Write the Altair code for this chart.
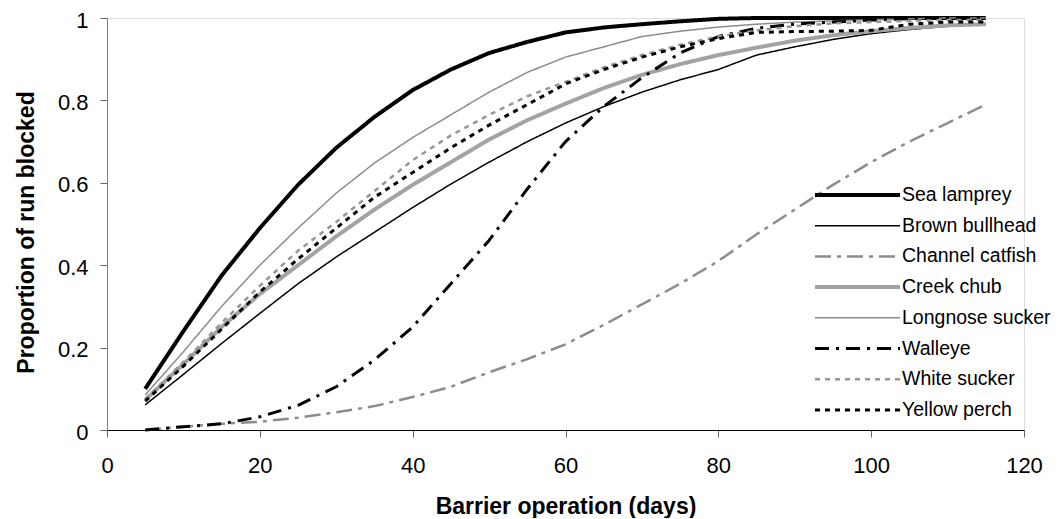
import altair as alt
import pandas as pd

days = [5, 10, 15, 20, 25, 30, 35, 40, 45, 50, 55, 60, 65, 70, 75, 80, 85, 90, 95, 100, 105, 110, 115]

species = ["Sea lamprey", "Brown bullhead", "Channel catfish", "Creek chub",
           "Longnose sucker", "Walleye", "White sucker", "Yellow perch"]

sea_lamprey = [0.10, 0.24, 0.375, 0.49, 0.595, 0.685, 0.76, 0.825, 0.875, 0.915, 0.942, 0.965,
               0.977, 0.985, 0.992, 0.998, 1.0, 1.0, 1.0, 1.0, 1.0, 1.0, 1.0]
brown_bullhead = [0.061, 0.135, 0.21, 0.283, 0.355, 0.42, 0.48, 0.54, 0.597, 0.65, 0.70, 0.745,
                  0.785, 0.82, 0.85, 0.875, 0.91, 0.93, 0.948, 0.962, 0.972, 0.98, 0.985]
channel_catfish = [0.0, 0.008, 0.015, 0.02, 0.03, 0.043, 0.058, 0.08, 0.105, 0.14, 0.172, 0.208,
                   0.255, 0.305, 0.355, 0.41, 0.475, 0.535, 0.595, 0.65, 0.70, 0.745, 0.79]
creek_chub = [0.073, 0.16, 0.25, 0.33, 0.40, 0.47, 0.535, 0.595, 0.65, 0.705, 0.752, 0.792,
              0.83, 0.862, 0.888, 0.91, 0.928, 0.945, 0.958, 0.968, 0.976, 0.982, 0.985]
longnose_sucker = [0.085, 0.19, 0.30, 0.40, 0.49, 0.575, 0.648, 0.71, 0.765, 0.82, 0.868, 0.905,
                   0.93, 0.955, 0.968, 0.978, 0.985, 0.99, 0.993, 0.996, 0.998, 1.0, 1.0]
walleye = [0.0, 0.008, 0.015, 0.032, 0.06, 0.105, 0.17, 0.25, 0.355, 0.46, 0.585, 0.70,
           0.785, 0.855, 0.915, 0.955, 0.975, 0.985, 0.99, 0.995, 0.998, 1.0, 1.0]
white_sucker = [0.075, 0.165, 0.26, 0.35, 0.435, 0.505, 0.58, 0.655, 0.715, 0.765, 0.81, 0.845,
                0.88, 0.91, 0.935, 0.955, 0.97, 0.98, 0.987, 0.99, 0.993, 0.995, 0.995]
yellow_perch = [0.07, 0.155, 0.245, 0.335, 0.415, 0.49, 0.565, 0.625, 0.685, 0.74, 0.79, 0.84,
                0.875, 0.905, 0.93, 0.95, 0.965, 0.967, 0.968, 0.97, 0.985, 0.99, 0.99]

series = [sea_lamprey, brown_bullhead, channel_catfish, creek_chub,
          longnose_sucker, walleye, white_sucker, yellow_perch]

x_ticks = [0, 20, 40, 60, 80, 100, 120]
y_ticks = [0, 0.2, 0.4, 0.6, 0.8, 1.0]

rows = []
for i, (name, vals) in enumerate(zip(species, series)):
    for d, v in zip(days, vals):
        rows.append({"species": name, "order": i, "days": d, "blocked": v})
df = pd.DataFrame(rows)

colors = ["#000000", "#000000", "#8c8c8c", "#a3a3a3", "#8c8c8c", "#000000", "#969696", "#000000"]
dashes = [[1, 0], [1, 0], [16, 6, 4, 6], [1, 0], [1, 0], [14, 7, 3, 7], [5, 5], [5, 5]]
widths = [4, 1.5, 2.5, 4, 1.5, 3, 2.5, 3]

FONT = "Liberation Sans"

legend = alt.Legend(
    title=None,
    orient="none",
    legendX=706,
    legendY=167,
    symbolType="stroke",
    symbolSize=7225,
    clipHeight=20,
    rowPadding=10.7,
    labelFont=FONT,
    labelFontSize=19.5,
    labelColor="#000000",
    labelOffset=0,
    labelLimit=300,
    padding=0,
    symbolFillColor="transparent",
)

chart = alt.Chart(df).mark_line(strokeJoin="round").encode(
    x=alt.X("days:Q",
            scale=alt.Scale(domain=[0, 120], nice=False, zero=False),
            axis=alt.Axis(values=x_ticks, title="Barrier operation (days)", grid=False,
                          labelFont=FONT, labelFontSize=22, labelColor="#000000",
                          labelPadding=18, tickSize=7, tickColor="#666666",
                          domainColor="#000000", labelFlush=False,
                          titleFont=FONT, titleFontSize=23, titleFontWeight="bold",
                          titleColor="#000000", titleBaseline="alphabetic", titleY=83)),
    y=alt.Y("blocked:Q",
            scale=alt.Scale(domain=[0, 1], nice=False),
            axis=alt.Axis(values=y_ticks, format="~g", title="Proportion of run blocked", grid=False,
                          labelFont=FONT, labelFontSize=22, labelColor="#000000",
                          labelPadding=12, labelOffset=2, tickSize=7, tickColor="#666666",
                          domainColor="#808080", labelFlush=False,
                          titleFont=FONT, titleFontSize=23, titleFontWeight="bold",
                          titleColor="#000000", titleBaseline="alphabetic",
                          titleX=-74, titleY=214, titleAngle=270)),
    color=alt.Color("species:N", scale=alt.Scale(domain=species, range=colors), legend=legend),
    strokeDash=alt.StrokeDash("species:N", scale=alt.Scale(domain=species, range=dashes), legend=legend),
    strokeWidth=alt.StrokeWidth("species:N", scale=alt.Scale(type="ordinal", domain=species, range=widths), legend=legend),
    order=alt.Order("order:Q"),
    detail="species:N",
).properties(
    width=917,
    height=412,
    autosize=alt.AutoSizeParams(type="none"),
    padding={"left": 99, "top": 10, "right": 27, "bottom": 88},
).configure_view(stroke=None).configure(background="white")

chart.save("out.html", embed_options={"renderer": "svg", "actions": False})
